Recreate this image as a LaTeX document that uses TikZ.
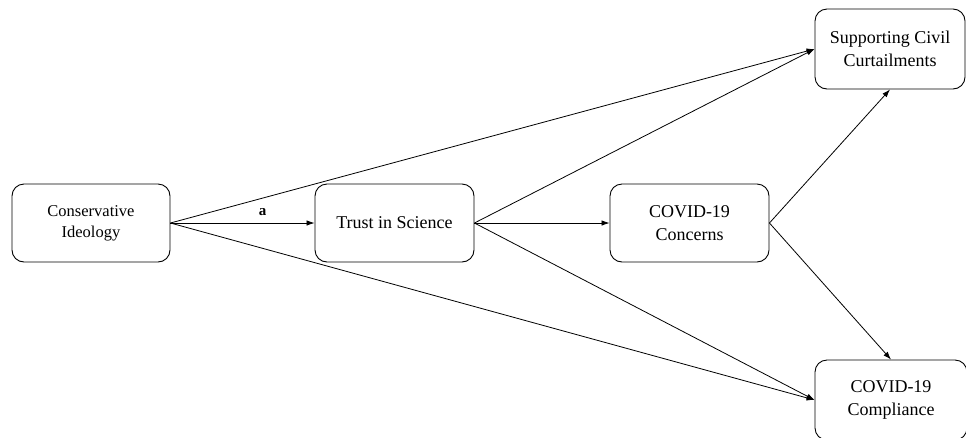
\documentclass[tikz,border=0pt]{standalone}
\usepackage{fontspec}
\setmainfont{Liberation Serif}
\usetikzlibrary{arrows.meta}
\begin{document}
\begin{tikzpicture}[x=1pt,y=-1pt,
  box/.style={draw=black, line width=0.9pt, rounded corners=12pt, align=center,
    inner sep=0pt, font=\fontsize{18}{23}\selectfont},
  conn/.style={draw=black, line width=0.8pt, -{Latex[length=8pt,width=5.5pt]}}]
\useasboundingbox (0,0) rectangle (966,437);
\node[box, minimum width=158pt, minimum height=78pt, font=\fontsize{16.5}{21}\selectfont] (cons) at (91,223) {Conservative\\Ideology};
\node[box, minimum width=159pt, minimum height=78pt] (trust) at (394.5,223) {Trust in Science};
\node[box, minimum width=159pt, minimum height=78pt] (conc) at (689.5,223) {COVID-19\\Concerns};
\node[box, minimum width=150pt, minimum height=80pt] (supp) at (890,49) {Supporting Civil\\Curtailments};
\node[box, minimum width=152pt, minimum height=80pt] (comp) at (891,400) {COVID-19\\Compliance};
\draw[conn] (cons.east) -- node[above=4pt, pos=0.64, font=\fontsize{15}{15}\selectfont\bfseries] (lab) {a} (trust.west);
\draw[conn] (cons.east) -- (supp.west);
\draw[conn] (cons.east) -- (comp.west);
\draw[conn] (trust.east) -- (conc.west);
\draw[conn] (trust.east) -- (supp.west);
\draw[conn] (trust.east) -- (comp.west);
\draw[conn] (conc.east) -- (supp.south);
\draw[conn] (conc.east) -- (comp.north);
\end{tikzpicture}
\end{document}
